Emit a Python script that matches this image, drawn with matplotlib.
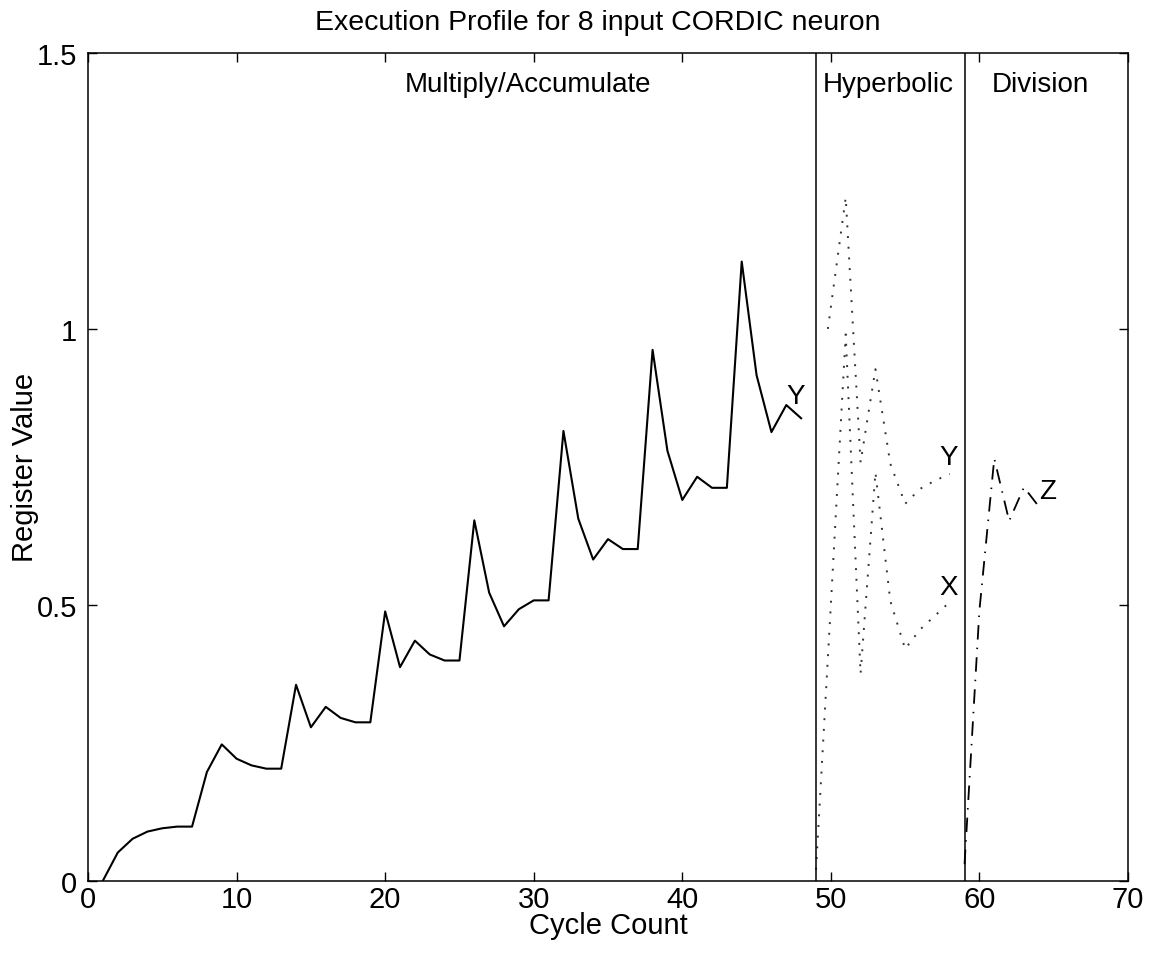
import matplotlib
matplotlib.use("Agg")
import matplotlib.pyplot as plt

plt.rcParams["font.family"] = ["Liberation Sans", "DejaVu Sans"]

# Multiply/Accumulate phase: Y register per cycle
mac_cycles = list(range(1, 49))
mac_y = [0.0, 0.051, 0.076, 0.089, 0.095, 0.098, 0.098, 0.197, 0.247, 0.221,
         0.209, 0.203, 0.203, 0.355, 0.278, 0.315, 0.295, 0.287, 0.287, 0.488,
         0.387, 0.435, 0.410, 0.399, 0.399, 0.653, 0.522, 0.461, 0.492, 0.508,
         0.508, 0.815, 0.656, 0.582, 0.619, 0.601, 0.601, 0.962, 0.779, 0.690,
         0.732, 0.712, 0.712, 1.122, 0.916, 0.813, 0.862, 0.838]

# Hyperbolic phase
hyp_x_cycles = [49, 50, 51, 52, 53, 54, 55, 56, 57, 58]
hyp_x = [0.02, 0.50, 0.99, 0.375, 0.74, 0.507, 0.42, 0.455, 0.48, 0.505]
hyp_y_cycles = [49.8, 51, 52, 53, 54, 55, 56, 57, 58]
hyp_y = [1.0, 1.238, 0.758, 0.927, 0.756, 0.683, 0.71, 0.725, 0.737]

# Division phase
div_cycles = [59, 60, 61, 62, 63, 64]
div_z = [0.03, 0.49, 0.765, 0.652, 0.713, 0.678]

phase_bounds = [49, 59]
phase_names = ["Multiply/Accumulate", "Hyperbolic", "Division"]
phase_label_x = [29.6, 53.85, 64.1]

fig = plt.figure(figsize=(11.51, 9.54), dpi=100)
ax = fig.add_axes([0.0765, 0.0758, 0.9035, 0.8676])

ax.plot(mac_cycles, mac_y, color="black", linewidth=1.5)
ax.plot(hyp_x_cycles, hyp_x, color="#333333", linewidth=1.4,
        linestyle=(0, (1, 4.5)))
ax.plot(hyp_y_cycles, hyp_y, color="#333333", linewidth=1.4,
        linestyle=(0, (1, 4.5)))
ax.plot(div_cycles, div_z, color="black", linewidth=1.3,
        linestyle=(0, (8, 4.5, 0.8, 4.5)))

for b in phase_bounds:
    ax.axvline(b, color="black", linewidth=1.1)

for name, px in zip(phase_names, phase_label_x):
    ax.text(px, 1.444, name, ha="center", va="center", fontsize=20)

ax.text(47.6, 0.878, "Y", ha="center", va="center", fontsize=20)
ax.text(57.9, 0.768, "Y", ha="center", va="center", fontsize=20)
ax.text(57.9, 0.532, "X", ha="center", va="center", fontsize=20)
ax.text(64.6, 0.706, "Z", ha="center", va="center", fontsize=20)

ax.set_xlim(0, 70)
ax.set_ylim(0, 1.5)
ax.set_xticks(range(0, 71, 10))
ax.set_yticks([0, 0.5, 1, 1.5])
ax.set_yticklabels(["0", "0.5", "1", "1.5"])
ax.tick_params(direction="in", length=6.5, width=1.0, labelsize=21,
               top=True, right=True)
ax.tick_params(axis="x", pad=3)
ax.tick_params(axis="y", pad=8)
for s in ax.spines.values():
    s.set_linewidth(1.1)

ax.set_xlabel("Cycle Count", fontsize=21, labelpad=-1)
ax.set_ylabel("Register Value", fontsize=21, labelpad=-2)
fig.text(0.5195, 0.976, "Execution Profile for 8 input CORDIC neuron",
         ha="center", va="center", fontsize=20.5)

fig.savefig("out.png", dpi=100)
